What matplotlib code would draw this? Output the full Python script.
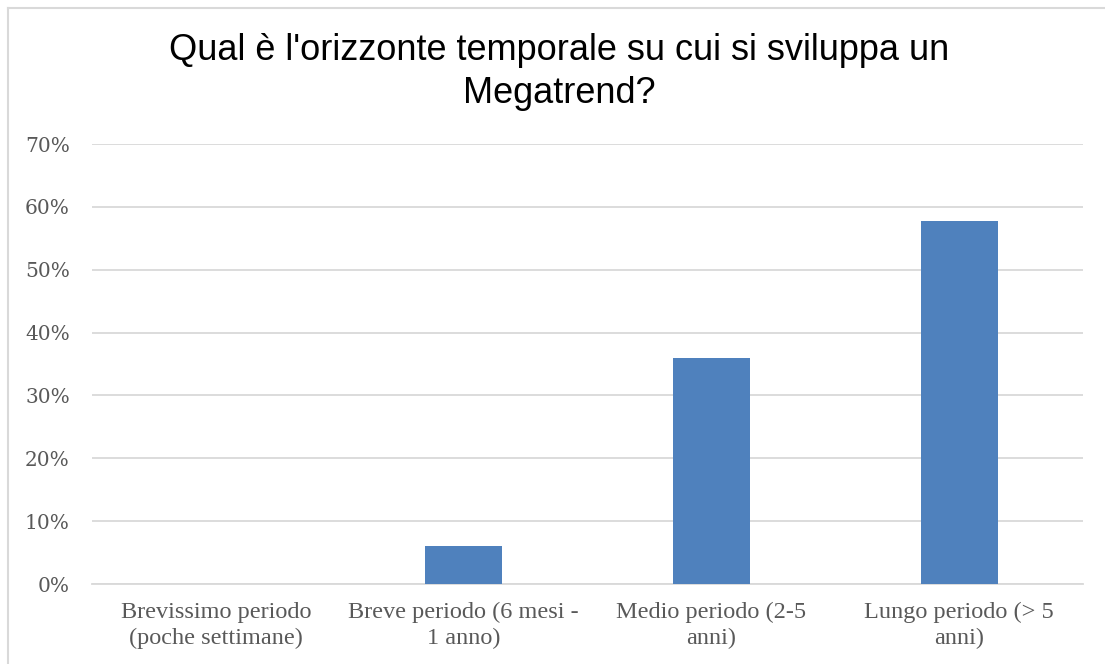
import numpy as np
import matplotlib
matplotlib.use('Agg')
import matplotlib.pyplot as plt
from matplotlib.ticker import PercentFormatter

# data
categorie = ['Brevissimo periodo\n(poche settimane)',
             'Breve periodo (6 mesi -\n1 anno)',
             'Medio periodo (2-5\nanni)',
             'Lungo periodo (> 5\nanni)']
valori = [0.0, 0.061, 0.359, 0.577]
ticks_y = [0, 0.1, 0.2, 0.3, 0.4, 0.5, 0.6, 0.7]
titolo = "Qual è l'orizzonte temporale su cui si sviluppa un\nMegatrend?"

W, H = 1105, 664
fig = plt.figure(figsize=(W / 100, H / 100), dpi=100)
ax = fig.add_axes([92 / W, 1 - 584 / H, (1083 - 92) / W, (584 - 144) / H])

x = np.arange(len(categorie))
ax.bar(x, valori, width=0.31, color='#4F81BD', zorder=3)

ax.set_xlim(-0.5, len(categorie) - 0.5)
ax.set_ylim(0, 0.7)
ax.set_yticks(ticks_y)
ax.yaxis.set_major_formatter(PercentFormatter(1.0, decimals=0))
ax.set_xticks(x)
ax.set_xticklabels(categorie)

ax.grid(axis='y', color='#D9D9D9', linewidth=1.3, zorder=0)
for s in ['top', 'right', 'left']:
    ax.spines[s].set_visible(False)
ax.spines['bottom'].set_color('#D9D9D9')
ax.spines['bottom'].set_linewidth(1.3)
ax.tick_params(axis='both', length=0, colors='#595959')
ax.tick_params(axis='y', pad=16)
ax.tick_params(axis='x', pad=13)
for lab in ax.get_yticklabels():
    lab.set_fontfamily('DejaVu Serif')
    lab.set_fontsize(14.5)
    lab.set_color('#595959')
for lab in ax.get_xticklabels():
    lab.set_fontfamily('Liberation Serif')
    lab.set_fontsize(17.5)
    lab.set_color('#595959')
    lab.set_linespacing(1.3)

fig.text(559 / W, 1 - 72 / H, titolo, ha='center', va='center',
         fontsize=26, family='Liberation Sans', color='black', linespacing=1.3)

# chart border (only left and top are inside the picture)
fig.add_artist(plt.Line2D([8 / W, 8 / W], [0, 1 - 8 / H], transform=fig.transFigure,
                          color='#D9D9D9', linewidth=1.5))
fig.add_artist(plt.Line2D([8 / W, 1], [1 - 8 / H, 1 - 8 / H], transform=fig.transFigure,
                          color='#D9D9D9', linewidth=1.5))

fig.savefig('out.png', dpi=100)
